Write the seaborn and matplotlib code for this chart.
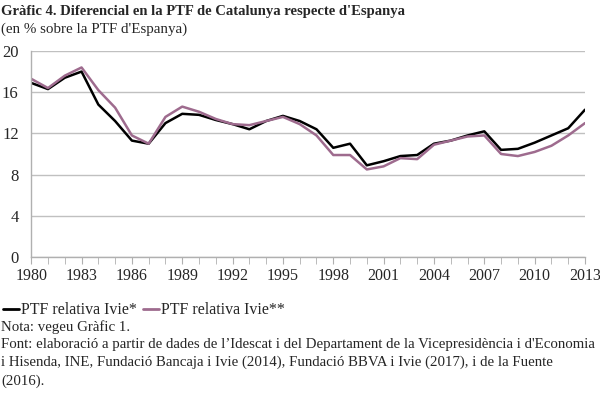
import pandas as pd
import numpy as np
import matplotlib
matplotlib.use("Agg")
import matplotlib.pyplot as plt
import seaborn as sns

years = list(range(1980, 2014))
ptf_ivie_1 = [16.9, 16.3, 17.4, 18.0, 14.8, 13.2, 11.3, 11.0, 13.0, 13.9,
              13.8, 13.3, 12.9, 12.4, 13.2, 13.7, 13.2, 12.4, 10.6, 11.0,
              8.9, 9.3, 9.8, 9.9, 11.0, 11.3, 11.8, 12.2, 10.4, 10.5,
              11.1, 11.8, 12.5, 14.3]
ptf_ivie_2 = [17.3, 16.4, 17.6, 18.4, 16.2, 14.5, 11.8, 11.0, 13.6, 14.6,
              14.1, 13.4, 12.9, 12.8, 13.2, 13.6, 12.9, 11.8, 9.9, 9.9,
              8.5, 8.8, 9.6, 9.5, 10.9, 11.3, 11.7, 11.8, 10.0, 9.8,
              10.2, 10.8, 11.8, 13.0]
series_names = ["PTF relativa Ivie*", "PTF relativa Ivie**"]
colors = ["#000000", "#9e6b8e"]

df = pd.DataFrame({"year": years * 2,
                   "value": ptf_ivie_1 + ptf_ivie_2,
                   "serie": [series_names[0]] * len(years) + [series_names[1]] * len(years)})

sns.set_style("white")
plt.rcParams["font.family"] = ["Liberation Serif", "DejaVu Serif"]

fig = plt.figure(figsize=(6, 3.97), dpi=100)
ax = fig.add_axes([0.052, 0.3526, 0.923, 0.519])

sns.lineplot(data=df, x="year", y="value", hue="serie",
             palette=dict(zip(series_names, colors)), hue_order=series_names,
             linewidth=1.8, ax=ax, legend=False)

ax.set_xlim(1980, 2013)
ax.set_ylim(0, 20)
ax.set_yticks(np.arange(0, 21, 4))
ax.set_xticks(years, minor=True)
ax.set_xticks(list(range(1980, 2014, 3)))
ax.grid(axis="y", color="#c0c0c0", linewidth=1)
ax.set_axisbelow(True)
ax.set_xlabel("")
ax.set_ylabel("")
for s in ["top", "right"]:
    ax.spines[s].set_visible(False)
for s in ["left", "bottom"]:
    ax.spines[s].set_color("#b0b0b0")
    ax.spines[s].set_linewidth(1)
ax.tick_params(axis="x", which="both", direction="out", length=5, color="#b0b0b0",
               labelsize=11.5, pad=3, bottom=True)
ax.tick_params(axis="y", length=0, labelsize=12, pad=9)

fig.text(0.002, 0.972, "Gràfic 4. Diferencial en la PTF de Catalunya respecte d'Espanya",
         fontsize=10.5, fontweight="bold", va="center", ha="left")
fig.text(0.002, 0.927, "(en % sobre la PTF d'Espanya)", fontsize=10.8, va="center", ha="left")

handles = [plt.Line2D([], [], color=c, linewidth=2.0) for c in colors]
fig.legend(handles, series_names, loc="center left", bbox_to_anchor=(-0.008, 0.218),
           frameon=False, fontsize=11.5, handlelength=1.0, handletextpad=0.1,
           columnspacing=0.4, ncol=2, borderpad=0)

notes = ("Nota: vegeu Gràfic 1.\n"
         "Font: elaboració a partir de dades de l\u2019Idescat i del Departament de la Vicepresidència i d'Economia\n"
         "i Hisenda, INE, Fundació Bancaja i Ivie (2014), Fundació BBVA i Ivie (2017), i de la Fuente\n"
         "(2016).")
fig.text(0.002, 0.194, notes, fontsize=10.7, va="top", ha="left", linespacing=1.45)

fig.savefig("out.png", dpi=100)
